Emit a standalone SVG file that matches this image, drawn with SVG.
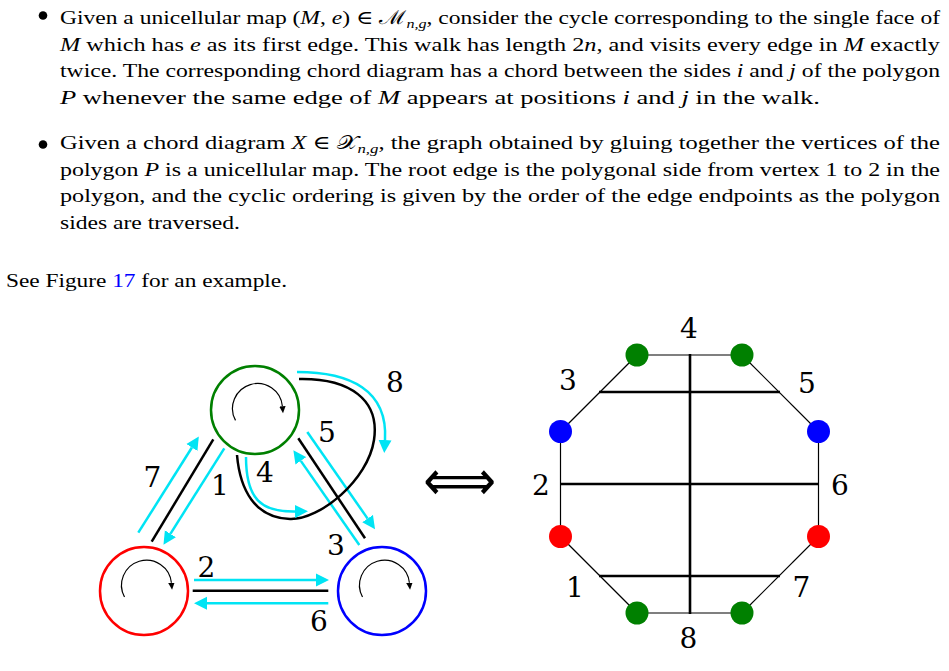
<svg xmlns="http://www.w3.org/2000/svg" width="949" height="671" viewBox="0 0 949 671">
<style>
.body{font-family:'Liberation Serif','DejaVu Serif',serif;font-size:19px;fill:#000}
.it{font-style:italic}
.sub{font-size:13px;font-style:italic}
.lbl{font-family:'DejaVu Serif',serif;font-size:28px;fill:#000;text-anchor:middle}
.blk{fill:none;stroke:#000;stroke-width:2.5}
.cy{fill:none;stroke:#00e4f4;stroke-width:2.5;marker-end:url(#ac)}
.rot{fill:none;stroke:#000;stroke-width:1.2;marker-end:url(#ab)}
.side{stroke:#000;stroke-width:1.2}
.chord{stroke:#000;stroke-width:2.6}
</style>
<defs>
<marker id="ac" viewBox="0 -7 14 14" refX="0" refY="0" markerWidth="14" markerHeight="14" markerUnits="userSpaceOnUse" orient="auto"><path d="M0,-6.5 L13,0 L0,6.5 z" fill="#00e4f4"/></marker>
<marker id="ab" viewBox="0 -4 8 8" refX="0" refY="0" markerWidth="8" markerHeight="8" markerUnits="userSpaceOnUse" orient="auto"><path d="M0,-3.2 L7,0 L0,3.2 z" fill="#000"/></marker>
</defs>

<g id="text">
<circle cx="43" cy="15.5" r="4.3" fill="#000"/>
<text class="body" x="60" y="24" textLength="880" lengthAdjust="spacingAndGlyphs">Given a unicellular map (<tspan class="it">M</tspan>, <tspan class="it">e</tspan>) ∈ ℳ<tspan class="sub" dy="4">n,g</tspan><tspan dy="-4">, consider the cycle corresponding to the single face of</tspan></text>
<text class="body" x="60" y="50.5" textLength="880" lengthAdjust="spacingAndGlyphs"><tspan class="it">M</tspan> which has <tspan class="it">e</tspan> as its first edge. This walk has length 2<tspan class="it">n</tspan>, and visits every edge in <tspan class="it">M</tspan> exactly</text>
<text class="body" x="60" y="77" textLength="880" lengthAdjust="spacingAndGlyphs">twice. The corresponding chord diagram has a chord between the sides <tspan class="it">i</tspan> and <tspan class="it">j</tspan> of the polygon</text>
<text class="body" x="60" y="103.5" textLength="760" lengthAdjust="spacingAndGlyphs"><tspan class="it">P</tspan> whenever the same edge of <tspan class="it">M</tspan> appears at positions <tspan class="it">i</tspan> and <tspan class="it">j</tspan> in the walk.</text>

<circle cx="43" cy="144.5" r="4.3" fill="#000"/>
<text class="body" x="60" y="149" textLength="880" lengthAdjust="spacingAndGlyphs">Given a chord diagram <tspan class="it">X</tspan> ∈ 𝒳<tspan class="sub" dy="4">n,g</tspan><tspan dy="-4">, the graph obtained by gluing together the vertices of the</tspan></text>
<text class="body" x="60" y="175.5" textLength="880" lengthAdjust="spacingAndGlyphs">polygon <tspan class="it">P</tspan> is a unicellular map. The root edge is the polygonal side from vertex 1 to 2 in the</text>
<text class="body" x="60" y="202" textLength="880" lengthAdjust="spacingAndGlyphs">polygon, and the cyclic ordering is given by the order of the edge endpoints as the polygon</text>
<text class="body" x="60" y="228.5" textLength="180" lengthAdjust="spacingAndGlyphs">sides are traversed.</text>

<text class="body" x="6" y="286.5" textLength="281" lengthAdjust="spacingAndGlyphs">See Figure <tspan fill="#0000ff">17</tspan> for an example.</text>
</g>

<g id="connectors">
<line class="blk" x1="151.7" y1="541.7" x2="213.3" y2="439.3"/>
<line class="cy" x1="138.3" y1="532.7" x2="191.9" y2="447.5"/>
<line class="cy" x1="224.3" y1="448.3" x2="170.4" y2="533.8"/>
<line class="blk" x1="298.3" y1="438.3" x2="365" y2="538.3"/>
<line class="cy" x1="307.3" y1="432" x2="367.6" y2="518.6"/>
<line class="cy" x1="359.3" y1="545" x2="300.8" y2="460.9"/>
<line class="blk" x1="192.7" y1="590.7" x2="328.3" y2="590.7"/>
<line class="cy" x1="194" y1="580" x2="316" y2="580"/>
<line class="cy" x1="328.3" y1="603.3" x2="207" y2="603.3"/>
<path class="blk" d="M299,379 C350,378 380,400 374,440 C368,480 320,520 290,519 C255,518 240,490 237,455"/>
<path class="cy" d="M297,372 C350,372 388,390 385,440"/>
<path class="cy" d="M246,457 C246,500 262,512 295,511.5"/>
</g>

<g id="node-green">
<circle cx="255" cy="410" r="44" fill="none" stroke="#008000" stroke-width="2.5"/>
<path class="rot" d="M235.5,420.4 A25,25 0 1 1 282.4,406.3"/>
</g>
<g id="node-red">
<circle cx="144" cy="591" r="44" fill="none" stroke="#ff0000" stroke-width="2.5"/>
<path class="rot" d="M124.5,597 A25,25 0 1 1 171.4,582.8"/>
</g>
<g id="node-blue">
<circle cx="382" cy="591" r="44" fill="none" stroke="#0000ff" stroke-width="2.5"/>
<path class="rot" d="M362.5,597 A25,25 0 1 1 409.4,582.8"/>
</g>

<g id="labels-left">
<text class="lbl" x="395" y="392">8</text>
<text class="lbl" x="327" y="441.5">5</text>
<text class="lbl" x="152.5" y="487">7</text>
<text class="lbl" x="220" y="494.5">1</text>
<text class="lbl" x="265" y="481.5">4</text>
<text class="lbl" x="336" y="555">3</text>
<text class="lbl" x="206.5" y="576.5">2</text>
<text class="lbl" x="319" y="630.5">6</text>
</g>

<g id="iff">
<text x="423" y="500" font-family="'DejaVu Sans', sans-serif" font-size="56" textLength="73" lengthAdjust="spacingAndGlyphs">⟺</text>
</g>

<g id="polygon">
<line class="side" x1="637" y1="355" x2="742" y2="355"/>
<line class="side" x1="742" y1="355" x2="818.5" y2="431.5"/>
<line class="side" x1="818.5" y1="431.5" x2="818.5" y2="536.5"/>
<line class="side" x1="818.5" y1="536.5" x2="742" y2="613"/>
<line class="side" x1="742" y1="613" x2="637" y2="613"/>
<line class="side" x1="637" y1="613" x2="560.5" y2="536.5"/>
<line class="side" x1="560.5" y1="536.5" x2="560.5" y2="431.5"/>
<line class="side" x1="560.5" y1="431.5" x2="637" y2="355"/>
</g>
<g id="chords">
<line class="chord" x1="690" y1="354" x2="690" y2="614"/>
<line class="chord" x1="599" y1="392" x2="780" y2="392"/>
<line class="chord" x1="560.5" y1="484" x2="818.5" y2="484"/>
<line class="chord" x1="599" y1="576" x2="780" y2="576"/>
</g>
<g id="vertices">
<circle id="v-g1" cx="637" cy="355" r="11.5" fill="#008000"/>
<circle id="v-g2" cx="742" cy="355" r="11.5" fill="#008000"/>
<circle id="v-b1" cx="818.5" cy="431.5" r="11.5" fill="#0000ff"/>
<circle id="v-r1" cx="818.5" cy="536.5" r="11.5" fill="#ff0000"/>
<circle id="v-g3" cx="742" cy="613" r="11.5" fill="#008000"/>
<circle id="v-g4" cx="637" cy="613" r="11.5" fill="#008000"/>
<circle id="v-r2" cx="560.5" cy="536.5" r="11.5" fill="#ff0000"/>
<circle id="v-b2" cx="560.5" cy="431.5" r="11.5" fill="#0000ff"/>
</g>
<g id="labels-right">
<text class="lbl" x="689" y="338">4</text>
<text class="lbl" x="568" y="390">3</text>
<text class="lbl" x="807" y="393">5</text>
<text class="lbl" x="541" y="495">2</text>
<text class="lbl" x="840" y="495">6</text>
<text class="lbl" x="575" y="597">1</text>
<text class="lbl" x="801.5" y="597">7</text>
<text class="lbl" x="688.5" y="648">8</text>
</g>
</svg>
